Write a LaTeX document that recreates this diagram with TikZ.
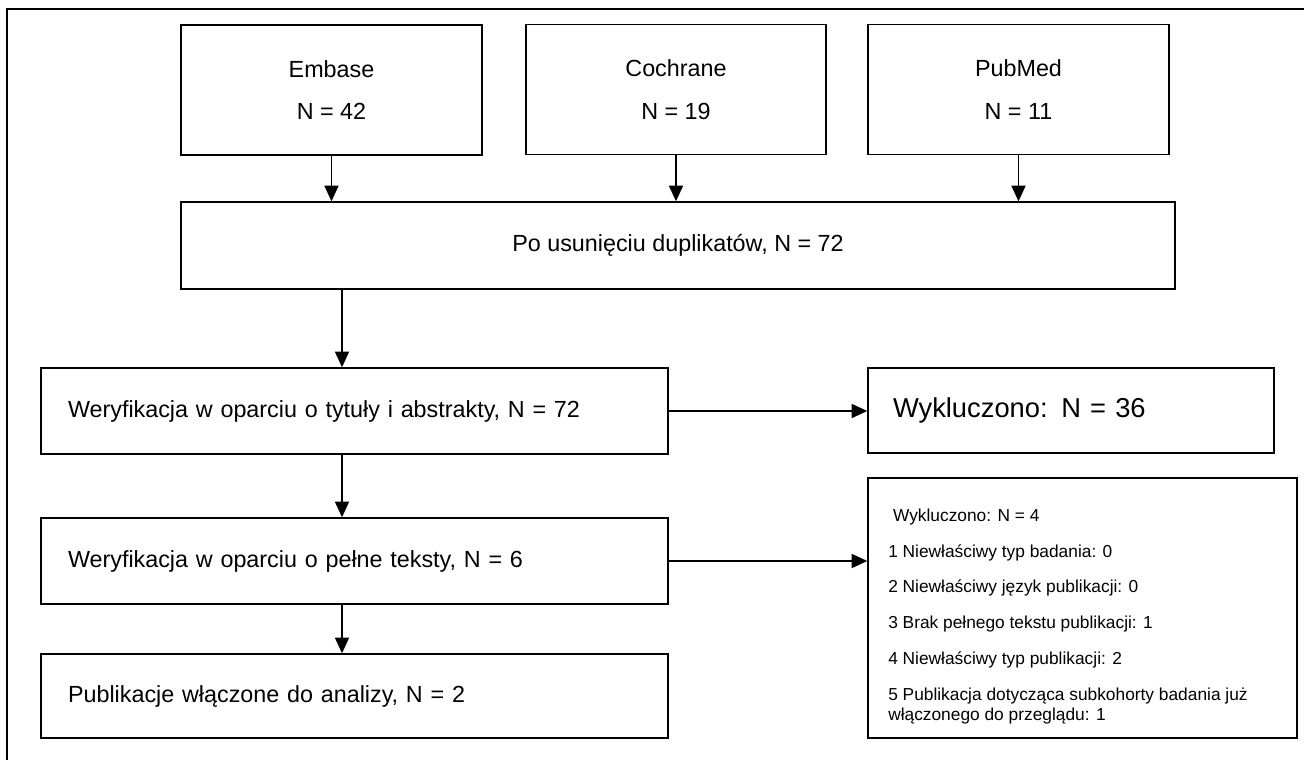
\documentclass[tikz,border=0pt]{standalone}
\usepackage{fontspec}
\setmainfont{Liberation Sans}
\usetikzlibrary{arrows.meta}
\begin{document}
\begin{tikzpicture}[x=0.75pt,y=-0.75pt,
  box/.style={draw=black, line width=1pt, inner sep=0pt},
  mainfont/.style={font=\fontsize{17.5pt}{21pt}\selectfont},
  src/.style={box, minimum width=301*0.75pt, minimum height=130*0.75pt, align=center, font=\fontsize{17.5pt}{32pt}\selectfont},
  lbox/.style={box, mainfont, minimum height=86*0.75pt, text width=573*0.75pt, inner xsep=27*0.75pt, align=left},
  arr/.style={line width=1.3pt, -{Triangle[length=11.8pt,width=10.5pt]}}]
\useasboundingbox (0,0) rectangle (1304,760);
% frame (only top and left edges visible)
\draw[line width=2pt, line join=miter] (7,770) -- (7,9) -- (1320,9);
% sources
\node[src] (embase) at (331.5,90) {Embase\\N = 42};
\node[src, minimum width=300*0.75pt] (cochrane) at (676,89.5) {Cochrane\\N = 19};
\node[src] (pubmed) at (1018.5,89.5) {PubMed\\N = 11};
\node[box, mainfont, minimum width=994*0.75pt, minimum height=87*0.75pt] (dedup) at (678,245.5) {Po usunięciu duplikatów, N = 72};
\node[lbox] (screen) at (354.5,411) {Weryfikacja w oparciu o tytuły i abstrakty, N = 72};
\node[lbox] (full) at (354.5,561) {Weryfikacja w oparciu o pełne teksty, N = 6};
\node[lbox, minimum height=84*0.75pt] (final) at (354.5,696) {Publikacje włączone do analizy, N = 2};
\node[box, minimum width=406*0.75pt, minimum height=85*0.75pt, text width=356*0.75pt, inner xsep=25*0.75pt, align=left, font=\fontsize{20.5pt}{24pt}\selectfont] (excl1) at (1071,410.5) {Wykluczono: N = 36};
\node[box, minimum width=429*0.75pt, minimum height=260*0.75pt] (excl2) at (1082.5,608) {};
\node[anchor=base west, inner sep=0pt, align=left, font=\fontsize{13pt}{15pt}\selectfont] (excl2txt) at (888,720)
  {\hspace{3.6pt}Wykluczono: N = 4\\[11.8pt]
   1 Niewłaściwy typ badania: 0\\[11.8pt]
   2 Niewłaściwy język publikacji: 0\\[11.8pt]
   3 Brak pełnego tekstu publikacji: 1\\[11.8pt]
   4 Niewłaściwy typ publikacji: 2\\[11.8pt]
   5 Publikacja dotycząca subkohorty badania już\\
   włączonego do przeglądu: 1};
% connectors
\coordinate (ax) at (342,0);
\draw[arr] (embase.south) -- (embase.south |- dedup.north);
\draw[arr] (cochrane.south) -- (cochrane.south |- dedup.north);
\draw[arr] (pubmed.south) -- (pubmed.south |- dedup.north);
\draw[arr] (dedup.south -| ax) -- (screen.north -| ax);
\draw[arr] (screen.south -| ax) -- (full.north -| ax);
\draw[arr] (full.south -| ax) -- (final.north -| ax);
\draw[arr] (screen.east) -- (excl1.west |- screen.east);
\draw[arr] (full.east) -- (excl2.west |- full.east);
\end{tikzpicture}
\end{document}
